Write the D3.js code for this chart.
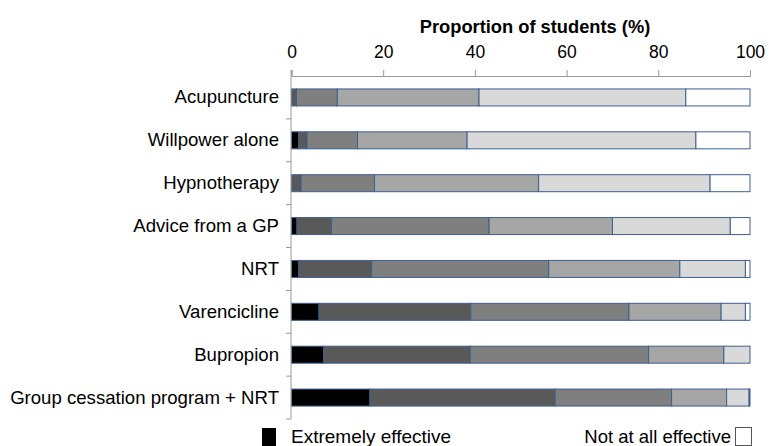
<!DOCTYPE html>
<html><head><meta charset="utf-8">
<script src="https://cdn.jsdelivr.net/npm/d3@7"></script>
<style>body{margin:0;background:#fff}text{font-family:"Liberation Sans",Arial,Helvetica,sans-serif}</style>
</head><body><svg id="c" width="769" height="446"></svg>
<script>
const categories = ["Acupuncture","Willpower alone","Hypnotherapy","Advice from a GP","NRT","Varencicline","Bupropion","Group cessation program + NRT"];
const levels = ["Extremely effective","Very effective","Moderately effective","Somewhat effective","Slightly effective","Not at all effective"];
const extremely  = [0,   1.6, 0,   1.2, 1.6, 6.0,  7.0,  17.1];
const very       = [1.1, 1.8, 2.1, 7.5, 15.9,33.1, 32.0, 40.4];
const moderately = [8.9, 11.0,16.0,34.4,38.6,34.5, 38.9, 25.4];
const somewhat   = [30.9,23.9,35.8,26.9,28.6,20.1, 16.4, 12.0];
const slightly   = [45.1,49.9,37.4,25.7,14.3,5.3,  5.7,  4.9];
const notAtAll   = [14.0,11.8,8.7, 4.3, 1.0, 1.0,  0,    0.2];
const xTicks = [0,20,40,60,80,100];
const colors = ["#000000","#595959","#7f7f7f","#a6a6a6","#d9d9d9","#ffffff"];

const series = [extremely,very,moderately,somewhat,slightly,notAtAll];
const rows = categories.map((c,i)=>{const r={cat:c};levels.forEach((l,j)=>r[l]=series[j][i]);return r;});
const stack = d3.stack().keys(levels)(rows);

const svg = d3.select("#c");
const x = d3.scaleLinear().domain([0,100]).range([291.5,750]);
const y = d3.scaleBand().domain(categories).range([76,419]).padding(0);
const barH = 17;
const color = d3.scaleOrdinal().domain(levels).range(colors);

// bars
svg.append("g").selectAll("g").data(stack).join("g")
  .attr("fill",d=>color(d.key))
  .selectAll("rect").data(d=>d).join("rect")
  .attr("x",d=>x(d[0])).attr("width",d=>Math.max(0,x(d[1])-x(d[0])))
  .attr("y",d=>y(d.data.cat)+y.bandwidth()/2-barH/2).attr("height",barH)
  .attr("stroke",d=>(d[1]-d[0])>0?"#3d5f8f":"none").attr("stroke-width",1);

// top axis
const gx = svg.append("g").attr("transform","translate(0,76)")
  .call(d3.axisTop(x).tickValues(xTicks).tickSize(6).tickPadding(12).tickFormat(d3.format("d")));
gx.select(".domain").attr("stroke","#999");
gx.selectAll(".tick line").attr("stroke","#999");
gx.selectAll("text").attr("font-size",17.5).attr("fill","#000");

// left axis
const gy = svg.append("g").attr("transform","translate(291,0)")
  .call(d3.axisLeft(y).tickSize(0).tickPadding(12));
gy.select(".domain").attr("stroke","#999").attr("d","M0,70V419");
gy.selectAll("text").attr("font-size",18.6).attr("fill","#000");
// boundary ticks
const bounds = categories.map(c=>y(c)).slice(1).concat([419]);
svg.append("g").selectAll("line").data(bounds).join("line")
  .attr("x1",286).attr("x2",291).attr("y1",d=>d).attr("y2",d=>d).attr("stroke","#999");

// title
svg.append("text").attr("x",535).attr("y",33).attr("text-anchor","middle")
  .attr("font-size",18.3).attr("font-weight","bold").text("Proportion of students (%)");

// legend
svg.append("rect").attr("x",262).attr("y",428).attr("width",14).attr("height",18).attr("fill",color(levels[0]));
svg.append("text").attr("x",291).attr("y",443).attr("font-size",19).text(levels[0]);
svg.append("rect").attr("x",735.5).attr("y",427.5).attr("width",16).attr("height",18).attr("fill","#fff").attr("stroke","#555");
svg.append("text").attr("x",731).attr("y",443).attr("font-size",18.5).attr("text-anchor","end").text(levels[5]);
</script></body></html>
